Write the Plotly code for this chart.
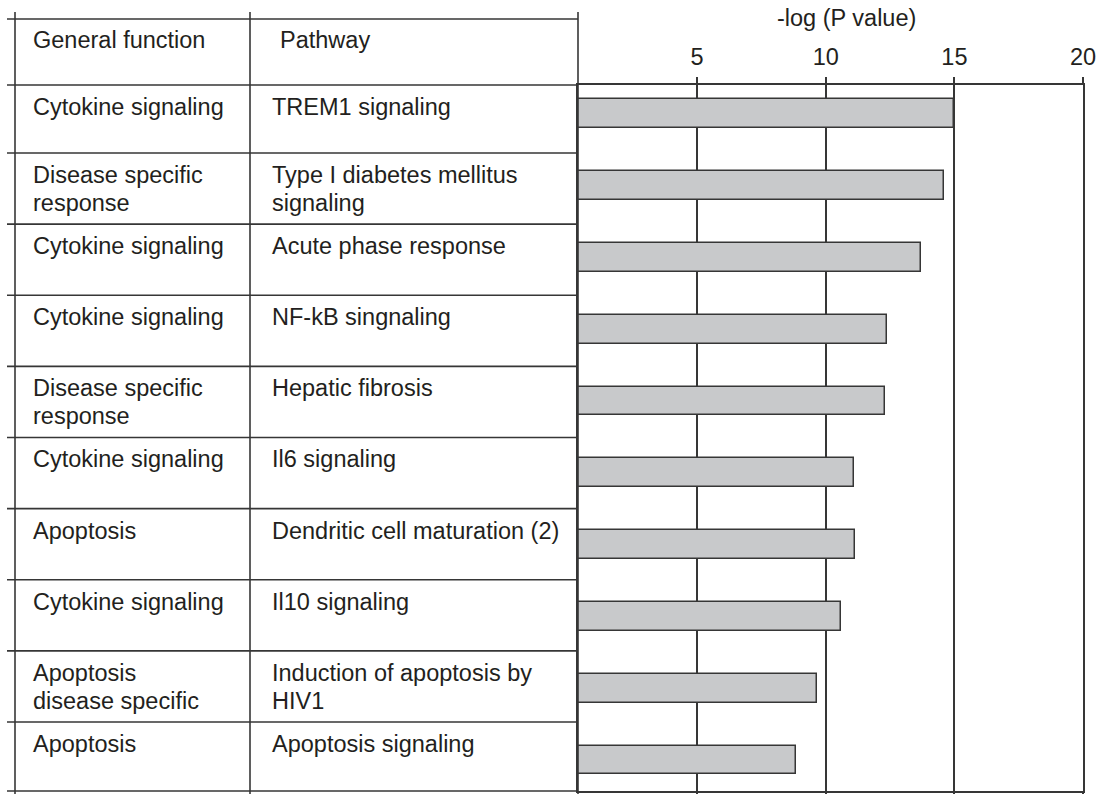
import plotly.graph_objects as go

# ---- data ----
general_function = [
    "Cytokine signaling",
    "Disease specific<br>response",
    "Cytokine signaling",
    "Cytokine signaling",
    "Disease specific<br>response",
    "Cytokine signaling",
    "Apoptosis",
    "Cytokine signaling",
    "Apoptosis<br>disease specific",
    "Apoptosis",
]
pathways = [
    "TREM1 signaling",
    "Type I diabetes mellitus<br>signaling",
    "Acute phase response",
    "NF-kB singnaling",
    "Hepatic fibrosis",
    "Il6 signaling",
    "Dendritic cell maturation (2)",
    "Il10 signaling",
    "Induction of apoptosis by<br>HIV1",
    "Apoptosis signaling",
]
neg_log_p = [15.0, 14.6, 13.7, 12.4, 12.3, 11.1, 11.15, 10.6, 9.65, 8.86]
tick_vals = [5, 10, 15, 20]
tick_text = ["5", "10", "15", "20"]
header_general = "General function"
header_pathway = "Pathway"
axis_title = "-log (P value)"

# ---- layout geometry (pixels) ----
FIG_W, FIG_H = 1106, 794
L, R, T, B = 578, 23, 85, 3
PW = FIG_W - L - R
PH = FIG_H - T - B
LINE = "#363636"
LW = 1.6
FONT = "Liberation Sans, Arial, Helvetica, sans-serif"
FS = 23.5
TXT = "#231f20"
LINE_STEP = 28
TEXT_OFF = 22


def px_x(px):
    return (px - L) / PW


def px_y(py):
    return (FIG_H - B - py) / PH


n = len(pathways)
ypos = list(range(n))

# table row tops (pixel layout of the left-hand table)
first_sep, last_sep = 153, 722
row_tops_px = [T] + [first_sep + (last_sep - first_sep) * (k - 1) / (n - 2) for k in range(1, n)]

fig = go.Figure()
fig.add_trace(go.Bar(
    x=neg_log_p, y=ypos, orientation="h", width=0.40,
    marker=dict(color="#c8c9cb", line=dict(color=LINE, width=1.5)),
    hoverinfo="x",
))

shapes = []
# vertical table lines (left of the plot)
for xv in [15, 250, 578]:
    shapes.append(dict(type="line", xref="paper", yref="paper",
                       x0=px_x(xv), x1=px_x(xv), y0=px_y(12), y1=px_y(FIG_H + 2),
                       line=dict(color=LINE, width=LW)))
# top header line
shapes.append(dict(type="line", xref="paper", yref="paper",
                   x0=px_x(7), x1=px_x(578), y0=px_y(19), y1=px_y(19),
                   line=dict(color=LINE, width=LW)))
# header bottom line & bottom line (table part)
for yv in [0.0, 1.0]:
    shapes.append(dict(type="line", xref="paper", yref="paper",
                       x0=px_x(7), x1=0, y0=yv, y1=yv,
                       line=dict(color=LINE, width=LW)))
# row separator lines
for k in range(1, n):
    yy = px_y(row_tops_px[k])
    shapes.append(dict(type="line", xref="paper", yref="paper",
                       x0=px_x(7), x1=0, y0=yy, y1=yy,
                       line=dict(color=LINE, width=LW)))

annotations = []
# headers
annotations.append(dict(text=header_general, xref="paper", yref="paper",
                        x=px_x(31), y=px_y(40), xanchor="left", yanchor="middle",
                        showarrow=False, font=dict(family=FONT, size=FS, color=TXT)))
annotations.append(dict(text=header_pathway, xref="paper", yref="paper",
                        x=px_x(278), y=px_y(40), xanchor="left", yanchor="middle",
                        showarrow=False, font=dict(family=FONT, size=FS, color=TXT)))
# axis title
annotations.append(dict(text=axis_title, xref="paper", yref="paper",
                        x=px_x(846), y=px_y(18), xanchor="center", yanchor="middle",
                        showarrow=False, font=dict(family=FONT, size=FS, color=TXT)))
# table cells (each text line placed separately for tighter line spacing)
for k in range(n):
    for txt, xp in [(general_function[k], 31), (pathways[k], 270)]:
        for j, line_txt in enumerate(txt.split("<br>")):
            annotations.append(dict(text=line_txt, xref="paper", yref="paper",
                                    x=px_x(xp),
                                    y=px_y(row_tops_px[k] + TEXT_OFF + j * LINE_STEP),
                                    xanchor="left", yanchor="middle",
                                    showarrow=False,
                                    font=dict(family=FONT, size=FS, color=TXT)))

fig.update_layout(
    width=FIG_W, height=FIG_H, autosize=False,
    margin=dict(l=L, r=R, t=T, b=B, pad=0, autoexpand=False),
    paper_bgcolor="white", plot_bgcolor="white",
    showlegend=False, bargap=0,
    font=dict(family=FONT, size=FS, color=TXT),
    shapes=shapes, annotations=annotations,
    xaxis=dict(range=[0.37, 20], side="top", tickvals=tick_vals, ticktext=tick_text,
               ticks="outside", ticklen=6, tickwidth=LW, tickcolor=LINE,
               showgrid=True, gridcolor=LINE, gridwidth=LW,
               showline=True, linecolor=LINE, linewidth=LW, mirror="ticks",
               zeroline=False, tickfont=dict(family=FONT, size=FS, color=TXT),
               ticklabelstandoff=3, automargin=False, fixedrange=True),
    yaxis=dict(range=[9.43, -0.40], showticklabels=False, showgrid=False,
               zeroline=False, showline=True, linecolor=LINE, linewidth=LW,
               mirror=True, ticks="", automargin=False, fixedrange=True),
)

fig.write_html("out.html", config={"displayModeBar": False},
               post_script="document.body.style.margin='0';")
